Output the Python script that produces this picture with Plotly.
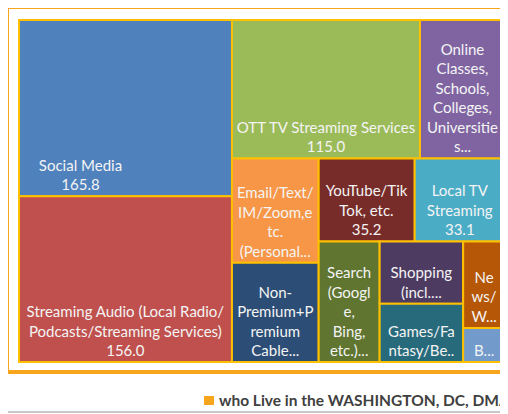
import plotly.graph_objects as go

categories = [
    "Social Media",
    "Streaming Audio (Local Radio/Podcasts/Streaming Services)",
    "OTT TV Streaming Services",
    "Online Classes, Schools, Colleges, Universities...",
    "Email/Text/IM/Zoom,etc. (Personal...",
    "YouTube/TikTok, etc.",
    "Local TV Streaming",
    "Non-Premium+Premium Cable...",
    "Search (Google, Bing, etc.)...",
    "Shopping (incl....",
    "Games/Fantasy/Be...",
    "News/W...",
    "B...",
]
values = [165.8, 156.0, 115.0, 52.0, 40.0, 35.2, 33.1, 38.0, 32.5, 23.0, 21.5, 16.0, 6.3]

tile_labels = [
    "Social Media",
    "Streaming Audio (Local Radio/<br>Podcasts/Streaming Services)",
    "OTT TV Streaming Services",
    "Online<br>Classes,<br>Schools,<br>Colleges,<br>Universitie<br>s...",
    "Email/Text/<br>IM/Zoom,e<br>tc.<br>(Personal...",
    "YouTube/Tik<br>Tok, etc.",
    "Local TV<br>Streaming",
    "Non-<br>Premium+P<br>remium<br>Cable...",
    "Search<br>(Googl<br>e,<br>Bing,<br>etc.)...",
    "Shopping<br>(incl....",
    "Games/Fa<br>ntasy/Be..",
    "Ne<br>ws/<br>W...",
    "B...",
]
show_value = [True, True, True, False, False, True, True, False, False, False, False, False, False]
# Social Media's label sits to the left in the original
left_shift = [True] + [False] * 12

colors = ["#4F81BD", "#C0504D", "#9BBB59", "#8064A2", "#F79646", "#772C2A", "#4BACC6",
          "#2C4D75", "#5F7530", "#4D3B62", "#276A7C", "#B65708", "#729ACA"]

series_name = "who Live in the WASHINGTON, DC, DMA"

W, H = 508, 414
OFF = 8  # page body margin


def px(x):
    return (x - OFF) / W


def py(y):
    return 1 - (y - OFF) / H


texts = []
for lab, v, s, left in zip(tile_labels, values, show_value, left_shift):
    lines = lab.split("<br>") + (["%.1f" % v] if s else [])
    if left:
        lines = [ln + "\u2003" * 8 for ln in lines]
    texts.append("<br>".join(lines))

fig = go.Figure(go.Treemap(
    labels=categories,
    parents=[""] * len(categories),
    values=values,
    text=texts,
    textinfo="text",
    textposition="bottom center",
    marker=dict(colors=colors, line=dict(color="#FFC000", width=2),
                pad=dict(t=0, l=0, r=0, b=0)),
    tiling=dict(packing="squarify", squarifyratio=1, pad=0),
    pathbar=dict(visible=False),
    insidetextfont=dict(family="Lato", size=15, color="#F4F4F4"),
    hoverinfo="label+value",
    domain=dict(x=[px(19), px(505)], y=[py(362), py(20)]),
))

# chart-area frame and bottom rule
fig.add_shape(type="rect", xref="paper", yref="paper",
              x0=px(7), x1=1.05, y0=py(372), y1=py(7),
              line=dict(color="#F7A51C", width=4), fillcolor="rgba(0,0,0,0)")
fig.add_shape(type="line", xref="paper", yref="paper",
              x0=0, x1=1, y0=py(412), y1=py(412),
              line=dict(color="#C8C8C8", width=2))

# legend entry
fig.add_shape(type="rect", xref="paper", yref="paper",
              x0=px(204), x1=px(214), y0=py(405), y1=py(396),
              line=dict(width=0), fillcolor="#F7A51C")
fig.add_annotation(
    xref="paper", yref="paper", x=px(217), y=py(400),
    xanchor="left", yanchor="middle", showarrow=False,
    text=series_name,
    font=dict(family="Lato", size=15.5, color="#404040", weight="bold"),
)

fig.update_layout(
    width=W, height=H,
    margin=dict(l=0, r=0, t=0, b=0),
    paper_bgcolor="white",
    showlegend=False,
)

fig.write_html("out.html")
